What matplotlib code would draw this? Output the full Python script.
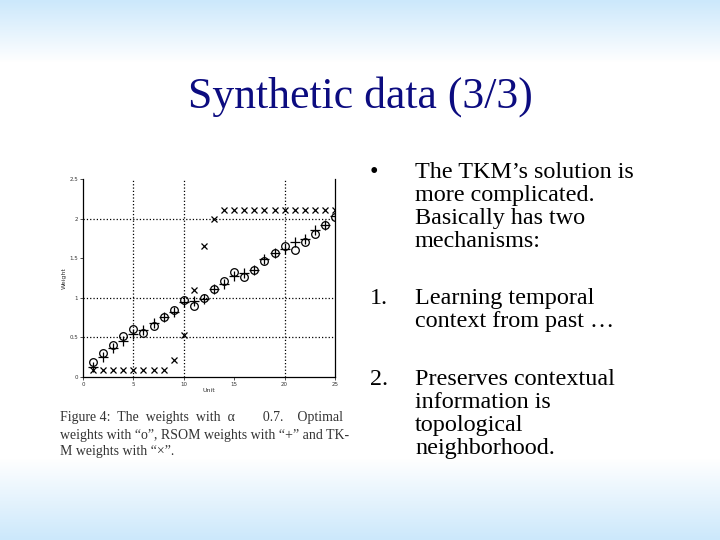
import numpy as np
import matplotlib.pyplot as plt

# data
units = np.arange(1, 26)
optimal = [0.19, 0.30, 0.40, 0.52, 0.61, 0.55, 0.65, 0.76, 0.85, 0.97,
           0.90, 1.00, 1.11, 1.21, 1.32, 1.26, 1.35, 1.46, 1.56, 1.66,
           1.60, 1.71, 1.81, 1.92, 2.02]
rsom = [0.13, 0.25, 0.36, 0.46, 0.54, 0.59, 0.68, 0.76, 0.82, 0.95,
        0.96, 0.99, 1.11, 1.18, 1.28, 1.31, 1.35, 1.49, 1.56, 1.62,
        1.70, 1.74, 1.86, 1.92, 2.03]
tkm = [0.09, 0.09, 0.09, 0.09, 0.09, 0.09, 0.09, 0.09, 0.21, 0.53,
       1.10, 1.66, 1.99, 2.11, 2.11, 2.11, 2.11, 2.11, 2.11, 2.11,
       2.11, 2.11, 2.11, 2.11, 2.11]
xticks = [0, 5, 10, 15, 20, 25]
yticks = [0, 0.5, 1, 1.5, 2, 2.5]
xgrid = [5, 10, 20]
ygrid = [0.5, 1, 2]

fig = plt.figure(figsize=(7.2, 5.4), dpi=100)

# slide background: light blue at top and bottom, white in the middle
bg = fig.add_axes([0, 0, 1, 1])
rows = np.linspace(0, 1, 540)
t = np.clip(1 - rows / 0.115, 0, 1) + np.clip((rows - 0.85) / 0.15, 0, 1)
top = np.array([0.80, 0.91, 0.985])
img = np.ones((540, 1, 3)) * (1 - t[:, None, None]) + top * t[:, None, None]
bg.imshow(img, aspect='auto', extent=[0, 1, 1, 0])
bg.set_xlim(0, 1)
bg.set_ylim(1, 0)
bg.axis('off')

fig.text(0.5, 1 - 97 / 540, "Synthetic data (3/3)", ha='center', va='center',
         family='Liberation Serif', fontsize=31.5, color='#0c0c80')

# the scatter plot
ax = fig.add_axes([83 / 720, 1 - 377 / 540, 252 / 720, 198 / 540])
ax.plot(units, optimal, 'o', mfc='none', mec='black', ms=5.5, mew=0.9)
ax.plot(units, rsom, '+', color='black', ms=7, mew=0.9)
ax.plot(units, tkm, 'x', color='black', ms=4, mew=0.9)
for g in xgrid:
    ax.axvline(g, color='black', ls=':', lw=0.9)
for g in ygrid:
    ax.axhline(g, color='black', ls=':', lw=0.9)
ax.set_xlim(0, 25)
ax.set_ylim(0, 2.5)
ax.set_xticks(xticks)
ax.set_yticks(yticks)
ax.set_xticklabels([str(v) for v in xticks])
ax.set_yticklabels([str(v) for v in yticks])
ax.tick_params(labelsize=4, length=2, width=0.6, pad=1.5, colors='#333333')
ax.spines['top'].set_visible(False)
for s in ['left', 'right', 'bottom']:
    ax.spines[s].set_linewidth(0.9)
ax.set_xlabel("Unit", fontsize=4.5, labelpad=1, color='#333333')
ax.set_ylabel("Weight", fontsize=4.5, labelpad=2, color='#333333')
ax.patch.set_alpha(0)

# caption under the plot
caption = ["Figure 4:  The  weights  with  \u03b1        0.7.    Optimal",
           "weights with \u201co\u201d, RSOM weights with \u201c+\u201d and TK-",
           "M weights with \u201c\u00d7\u201d."]
for i, line in enumerate(caption):
    fig.text(60 / 720, 1 - (418 + 17 * i) / 540, line, ha='left', va='center',
             family='Liberation Serif', fontsize=10, color='#333333')

# bullet text on the right
tf = dict(family='Liberation Serif', fontsize=17.4, color='black', va='baseline')
items = [("\u2022", ["The TKM\u2019s solution is", "more complicated.",
                     "Basically has two", "mechanisms:"], 178),
         ("1.", ["Learning temporal", "context from past \u2026"], 304),
         ("2.", ["Preserves contextual", "information is",
                 "topological", "neighborhood."], 385)]
for mark, lines, y0 in items:
    fig.text(370 / 720, 1 - y0 / 540, mark, **tf)
    for j, line in enumerate(lines):
        fig.text(415 / 720, 1 - (y0 + 23 * j) / 540, line, **tf)

fig.savefig("out.png", dpi=100)
